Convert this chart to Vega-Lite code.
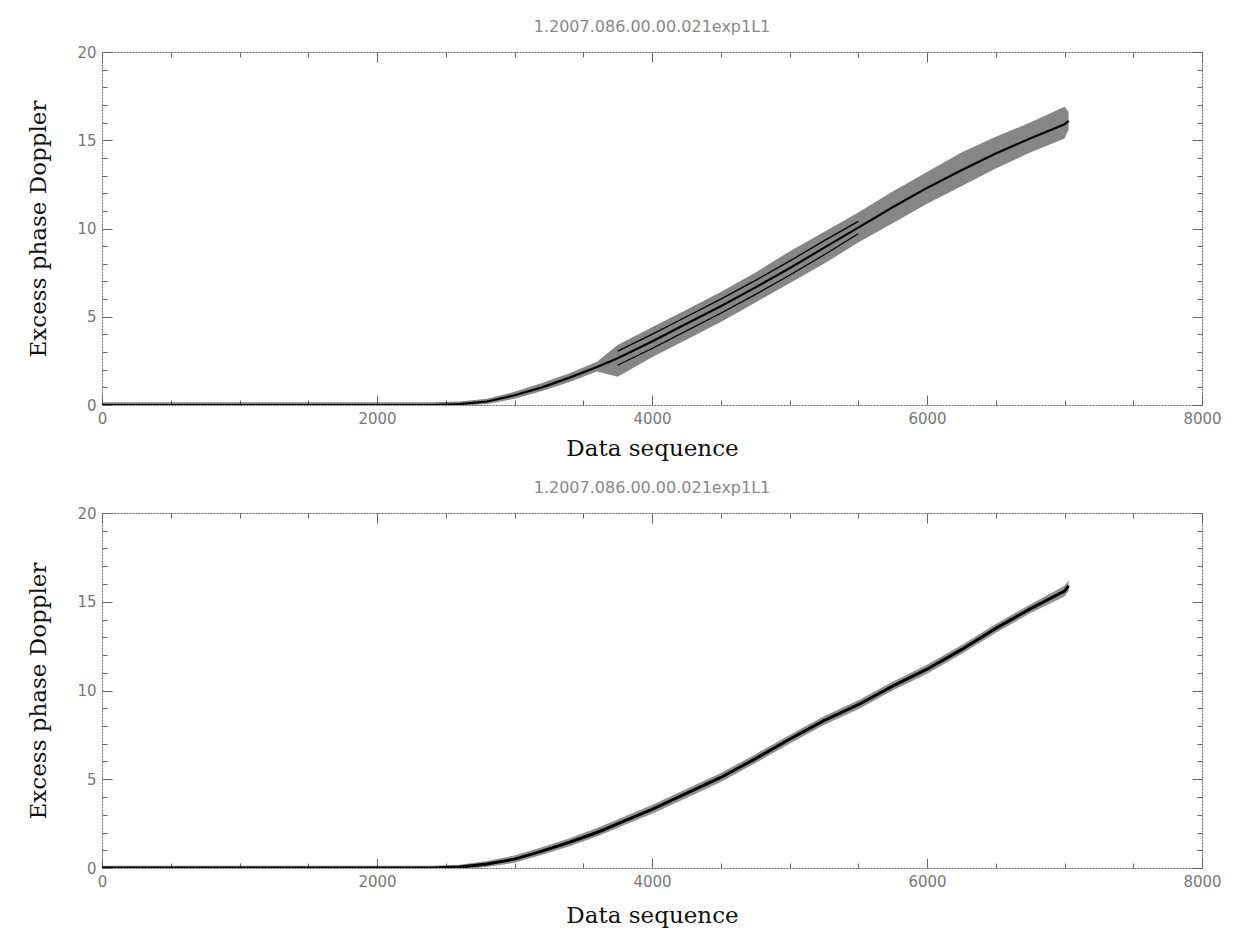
{
  "$schema": "https://vega.github.io/schema/vega-lite/v6.json",
  "background": "white",
  "padding": {"left": 27, "top": 19, "right": 10, "bottom": 5},
  "spacing": 20,
  "config": {
    "view": {"stroke": null},
    "axis": {"grid": false, "domainColor": "#666", "domainWidth": 1, "domainDash": [2, 1], "tickColor": "#666", "labelColor": "#777", "labelFont": "DejaVu Sans", "labelFontSize": 15, "labelOverlap": false, "labelFlush": false, "titleFont": "DejaVu Serif", "titleFontSize": 23, "titleFontWeight": "normal", "titleColor": "#111"},
    "title": {"font": "DejaVu Sans", "fontSize": 16, "fontWeight": "normal", "color": "#888", "offset": 10}
  },
  "datasets": {
    "top": [
      {"x": 0, "y": 0, "lo": -0.1, "hi": 0.15},
      {"x": 500, "y": 0, "lo": -0.1, "hi": 0.15},
      {"x": 1000, "y": 0, "lo": -0.1, "hi": 0.15},
      {"x": 1500, "y": 0, "lo": -0.1, "hi": 0.15},
      {"x": 2000, "y": 0, "lo": -0.1, "hi": 0.15},
      {"x": 2400, "y": 0, "lo": -0.1, "hi": 0.15},
      {"x": 2600, "y": 0.05, "lo": -0.05, "hi": 0.2},
      {"x": 2800, "y": 0.2, "lo": 0.05, "hi": 0.35},
      {"x": 3000, "y": 0.55, "lo": 0.35, "hi": 0.75},
      {"x": 3200, "y": 1.0, "lo": 0.8, "hi": 1.25},
      {"x": 3400, "y": 1.55, "lo": 1.3, "hi": 1.8},
      {"x": 3600, "y": 2.15, "lo": 1.9, "hi": 2.45},
      {"x": 3750, "y": 2.65, "lo": 1.6, "hi": 3.4, "up": 3.05, "dn": 2.25},
      {"x": 4000, "y": 3.6, "lo": 2.7, "hi": 4.4, "up": 4.0, "dn": 3.2},
      {"x": 4250, "y": 4.6, "lo": 3.7, "hi": 5.4, "up": 5.0, "dn": 4.2},
      {"x": 4500, "y": 5.6, "lo": 4.7, "hi": 6.4, "up": 6.0, "dn": 5.2},
      {"x": 4750, "y": 6.65, "lo": 5.8, "hi": 7.5, "up": 7.05, "dn": 6.25},
      {"x": 5000, "y": 7.75, "lo": 6.9, "hi": 8.7, "up": 8.15, "dn": 7.35},
      {"x": 5250, "y": 8.9, "lo": 8.0, "hi": 9.8, "up": 9.3, "dn": 8.5},
      {"x": 5500, "y": 10.05, "lo": 9.2, "hi": 10.9, "up": 10.4, "dn": 9.7},
      {"x": 5750, "y": 11.2, "lo": 10.3, "hi": 12.1},
      {"x": 6000, "y": 12.3, "lo": 11.4, "hi": 13.2},
      {"x": 6250, "y": 13.3, "lo": 12.4, "hi": 14.3},
      {"x": 6500, "y": 14.25, "lo": 13.4, "hi": 15.2},
      {"x": 6750, "y": 15.1, "lo": 14.3, "hi": 16.0},
      {"x": 7000, "y": 15.9, "lo": 15.1, "hi": 16.9},
      {"x": 7030, "y": 16.1, "lo": 15.6, "hi": 16.6}
    ],
    "bottom": [
      {"x": 0, "y": 0, "lo": -0.12, "hi": 0.12},
      {"x": 500, "y": 0, "lo": -0.12, "hi": 0.12},
      {"x": 1000, "y": 0, "lo": -0.12, "hi": 0.12},
      {"x": 1500, "y": 0, "lo": -0.12, "hi": 0.12},
      {"x": 2000, "y": 0, "lo": -0.12, "hi": 0.12},
      {"x": 2400, "y": 0, "lo": -0.12, "hi": 0.12},
      {"x": 2600, "y": 0.05, "lo": -0.08, "hi": 0.18},
      {"x": 2800, "y": 0.22, "lo": 0.05, "hi": 0.4},
      {"x": 3000, "y": 0.5, "lo": 0.3, "hi": 0.7},
      {"x": 3200, "y": 0.95, "lo": 0.75, "hi": 1.17},
      {"x": 3400, "y": 1.45, "lo": 1.23, "hi": 1.68},
      {"x": 3600, "y": 2.0, "lo": 1.78, "hi": 2.25},
      {"x": 3800, "y": 2.65, "lo": 2.42, "hi": 2.9},
      {"x": 4000, "y": 3.3, "lo": 3.05, "hi": 3.55},
      {"x": 4250, "y": 4.2, "lo": 3.95, "hi": 4.45},
      {"x": 4500, "y": 5.1, "lo": 4.85, "hi": 5.35},
      {"x": 4750, "y": 6.15, "lo": 5.9, "hi": 6.4},
      {"x": 5000, "y": 7.25, "lo": 7.0, "hi": 7.5},
      {"x": 5250, "y": 8.3, "lo": 8.05, "hi": 8.55},
      {"x": 5500, "y": 9.2, "lo": 8.95, "hi": 9.45},
      {"x": 5750, "y": 10.25, "lo": 10.0, "hi": 10.5},
      {"x": 6000, "y": 11.2, "lo": 10.95, "hi": 11.45},
      {"x": 6250, "y": 12.3, "lo": 12.05, "hi": 12.55},
      {"x": 6500, "y": 13.5, "lo": 13.25, "hi": 13.75},
      {"x": 6750, "y": 14.6, "lo": 14.35, "hi": 14.85},
      {"x": 7000, "y": 15.6, "lo": 15.3, "hi": 15.9},
      {"x": 7030, "y": 15.9, "lo": 15.6, "hi": 16.2}
    ]
  },
  "vconcat": [
    {
      "title": {"text": "1.2007.086.00.00.021exp1L1"},
      "width": 1100,
      "height": 353,
      "data": {"name": "top"},
      "layer": [
        {
          "mark": {"type": "area", "color": "#222", "opacity": 0.55, "clip": true},
          "encoding": {
            "x": {"field": "x", "type": "quantitative", "scale": {"domain": [0, 8000], "nice": false},
              "axis": {"orient": "bottom", "title": "Data sequence", "titlePadding": 6, "values": [0,500,1000,1500,2000,2500,3000,3500,4000,4500,5000,5500,6000,6500,7000,7500,8000], "format": "d", "labelExpr": "datum.value % 2000 === 0 ? datum.label : ''", "tickSize": {"condition": {"test": "datum.value % 2000 === 0", "value": -10}, "value": -5}, "labelPadding": 16}},
            "y": {"field": "lo", "type": "quantitative", "scale": {"domain": [0, 20], "nice": false},
              "axis": {"orient": "left", "title": "Excess phase Doppler", "titlePadding": 26, "values": [0,1,2,3,4,5,6,7,8,9,10,11,12,13,14,15,16,17,18,19,20], "labelExpr": "datum.value % 5 === 0 ? datum.label : ''", "tickSize": {"condition": {"test": "datum.value % 5 === 0", "value": -10}, "value": -5}, "labelPadding": 16}},
            "y2": {"field": "hi"}
          }
        },
        {
          "mark": {"type": "line", "color": "#000", "strokeWidth": 2.2, "clip": true},
          "encoding": {
            "x": {"field": "x", "type": "quantitative", "scale": {"domain": [0, 8000], "nice": false},
              "axis": {"orient": "top", "title": null, "labels": false, "values": [0,500,1000,1500,2000,2500,3000,3500,4000,4500,5000,5500,6000,6500,7000,7500,8000], "tickSize": {"condition": {"test": "datum.value % 2000 === 0", "value": -10}, "value": -5}}},
            "y": {"field": "y", "type": "quantitative", "scale": {"domain": [0, 20], "nice": false},
              "axis": {"orient": "right", "title": null, "labels": false, "values": [0,1,2,3,4,5,6,7,8,9,10,11,12,13,14,15,16,17,18,19,20], "tickSize": {"condition": {"test": "datum.value % 5 === 0", "value": -10}, "value": -5}}}
          }
        },
        {
          "mark": {"type": "line", "color": "#000", "strokeWidth": 1.3, "clip": true},
          "encoding": {
            "x": {"field": "x", "type": "quantitative", "axis": null},
            "y": {"field": "up", "type": "quantitative", "axis": null}
          }
        },
        {
          "mark": {"type": "line", "color": "#000", "strokeWidth": 1.3, "clip": true},
          "encoding": {
            "x": {"field": "x", "type": "quantitative", "axis": null},
            "y": {"field": "dn", "type": "quantitative", "axis": null}
          }
        }
      ],
      "resolve": {"axis": {"x": "independent", "y": "independent"}}
    },
    {
      "title": {"text": "1.2007.086.00.00.021exp1L1"},
      "width": 1100,
      "height": 355,
      "data": {"name": "bottom"},
      "layer": [
        {
          "mark": {"type": "area", "color": "#222", "opacity": 0.5, "clip": true},
          "encoding": {
            "x": {"field": "x", "type": "quantitative", "scale": {"domain": [0, 8000], "nice": false},
              "axis": {"orient": "bottom", "title": "Data sequence", "titlePadding": 10, "values": [0,500,1000,1500,2000,2500,3000,3500,4000,4500,5000,5500,6000,6500,7000,7500,8000], "format": "d", "labelExpr": "datum.value % 2000 === 0 ? datum.label : ''", "tickSize": {"condition": {"test": "datum.value % 2000 === 0", "value": -10}, "value": -5}, "labelPadding": 16}},
            "y": {"field": "lo", "type": "quantitative", "scale": {"domain": [0, 20], "nice": false},
              "axis": {"orient": "left", "title": "Excess phase Doppler", "titlePadding": 26, "values": [0,1,2,3,4,5,6,7,8,9,10,11,12,13,14,15,16,17,18,19,20], "labelExpr": "datum.value % 5 === 0 ? datum.label : ''", "tickSize": {"condition": {"test": "datum.value % 5 === 0", "value": -10}, "value": -5}, "labelPadding": 16}},
            "y2": {"field": "hi"}
          }
        },
        {
          "mark": {"type": "line", "color": "#000", "strokeWidth": 3, "clip": true},
          "encoding": {
            "x": {"field": "x", "type": "quantitative", "scale": {"domain": [0, 8000], "nice": false},
              "axis": {"orient": "top", "title": null, "labels": false, "values": [0,500,1000,1500,2000,2500,3000,3500,4000,4500,5000,5500,6000,6500,7000,7500,8000], "tickSize": {"condition": {"test": "datum.value % 2000 === 0", "value": -10}, "value": -5}}},
            "y": {"field": "y", "type": "quantitative", "scale": {"domain": [0, 20], "nice": false},
              "axis": {"orient": "right", "title": null, "labels": false, "values": [0,1,2,3,4,5,6,7,8,9,10,11,12,13,14,15,16,17,18,19,20], "tickSize": {"condition": {"test": "datum.value % 5 === 0", "value": -10}, "value": -5}}}
          }
        }
      ],
      "resolve": {"axis": {"x": "independent", "y": "independent"}}
    }
  ]
}
